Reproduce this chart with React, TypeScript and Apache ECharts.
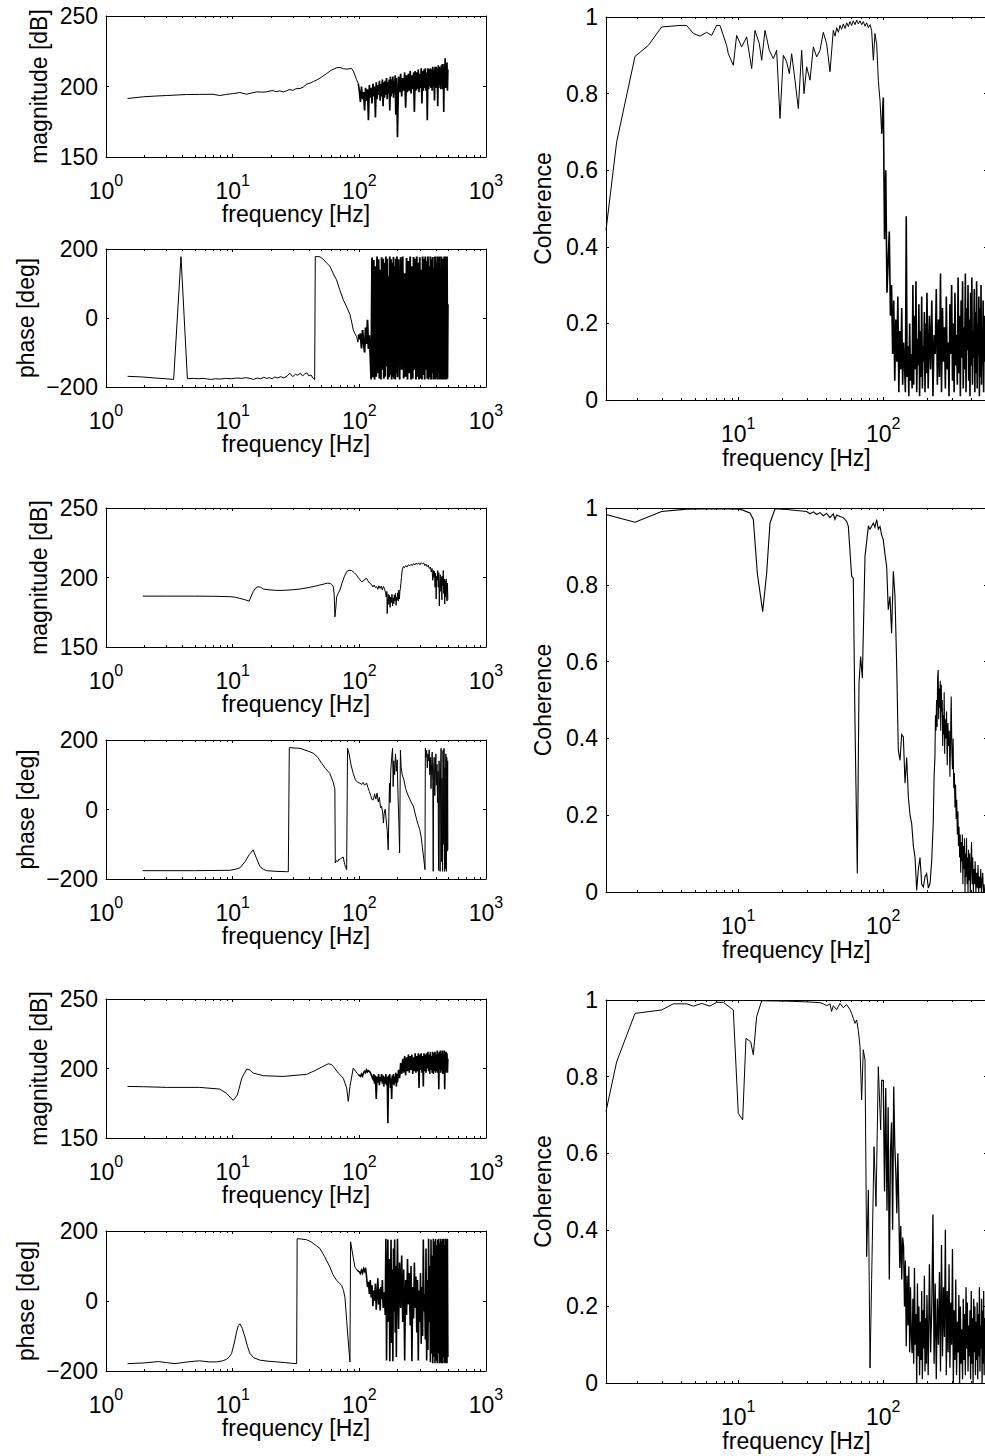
import React, { useEffect, useRef } from "react";
import * as echarts from "echarts";

const FONT = '"Liberation Sans", Arial, Helvetica, sans-serif';

// ---------- shared frequency grid for the dense (noisy) part of the spectra, Hz ----------
const noiseFreq = [
  100, 102, 104, 106, 108, 110, 112, 114, 116, 118, 120, 122, 124, 126, 128, 130, 132, 134, 136, 138,
  140, 142, 144, 146, 148, 150, 152, 154, 156, 158, 160, 162, 164, 166, 168, 170, 172, 174, 176, 178,
  180, 182, 184, 186, 188, 190, 192, 194, 196, 198, 200,
  204, 208, 212, 216, 220, 224, 228, 232, 236, 240, 244, 248, 252, 256, 260, 264, 268, 272, 276, 280,
  284, 288, 292, 296, 300, 304, 308, 312, 316, 320, 324, 328, 332, 336, 340, 344, 348, 352, 356, 360,
  364, 368, 372, 376, 380, 384, 388, 392, 396, 400, 404, 408, 412, 416, 420, 424, 428, 432, 436, 440,
  444, 448, 452, 456, 460, 464, 468, 472, 476, 480, 484, 488, 492, 496, 500,
];

const minorTickFreq = [2, 3, 4, 5, 6, 7, 8, 9, 20, 30, 40, 50, 60, 70, 80, 90, 200, 300, 400, 500, 600, 700, 800, 900];
const leftFreqRange = [1, 1000];
const rightFreqRange = [1.224, 519];

// ---------- Test 1 ----------
const mag1Smooth = [
  [1.48, 191.5], [1.97, 192.7], [2.44, 193.2], [3.0, 193.6], [4.3, 194.3], [5.5, 194.4], [7.0, 194.5],
  [7.9, 193.6], [8.8, 194.3], [10.1, 195.0], [11.4, 195.7], [12.9, 194.5], [14.2, 195.5], [15.5, 196.2],
  [17, 196], [18.5, 196.2], [19.7, 196.8], [20.9, 197.1], [22, 196.3], [23.5, 196.9], [25.1, 196.2],
  [26.7, 197], [28.3, 197.9], [29.8, 197.2], [31.5, 198.4], [34, 198.6], [36, 199.5], [38.4, 201.7],
  [41, 202.5], [43.5, 203.6], [46, 204.5], [50, 206.5], [55.2, 209.2], [60, 211.5], [66.2, 213.3],
  [70.3, 213.5], [75, 212.6], [79.4, 212.3], [83, 212.6], [86.9, 212.8], [89.5, 211], [92.3, 208],
  [95, 205], [98.1, 202.1],
];
const mag1Noise = [
  197, 189, 200, 191, 196, 183, 199, 190, 198, 176,
  201, 192, 199, 188, 202, 193, 200, 178, 203, 191,
  201, 194, 204, 190, 202, 193, 205, 186, 203, 192,
  204, 194, 206, 191, 203, 195, 205, 183, 207, 193,
  205, 195, 207, 192, 204, 196, 208, 180, 206, 194,
  164,
  207, 196, 209, 193, 206, 197, 210, 185, 208, 196,
  209, 197, 211, 195, 208, 198, 210, 182, 211, 197,
  210, 198, 212, 196, 209, 199, 213, 188, 211, 197,
  212, 199, 213, 197, 210, 176, 213, 198, 212, 200,
  213, 199, 212, 197, 214, 200, 212, 190, 214, 199,
  214, 200, 213, 186, 215, 199, 214, 201, 213, 198,
  215, 200, 216, 198, 214, 182, 216, 201, 220, 199,
  215, 200, 217, 197, 212,
];

const phase1Smooth = [
  [1.48, -169], [1.95, -171], [2.44, -174], [2.93, -176], [3.42, -178], [3.91, 178], [4.39, -176],
  [4.88, -175], [5.37, -176], [5.86, -175], [6.35, -177], [6.84, -178], [7.3, -176], [8.0, -177],
  [8.8, -175], [9.8, -176], [10.7, -174], [11.7, -175], [12.7, -173], [13.7, -175], [14.6, -178],
  [15.6, -174], [16.6, -176], [17.6, -172], [18.6, -175], [19.5, -173], [20.5, -176], [21.5, -171],
  [22.5, -174], [24, -170], [25.4, -174], [26.9, -168], [28.3, -160], [29.8, -170], [31.3, -163],
  [32.7, -166], [34.2, -160], [35.6, -168], [37.1, -162], [38.6, -159], [40, -168], [41.5, -165],
  [43, -174], [44.4, -179], [44.9, 178], [47, 178], [49, 177], [52, 170], [55, 160], [58.6, 150],
  [62, 130], [66, 111], [70, 82], [74.7, 53], [80, 30], [84.3, 10], [87, -12], [89.5, -34], [92, -45],
  [95, -53], [97.5, -70], [98.5, -48],
];
const phase1Noise = [
  -62, -45, -88, -35, -70, -100, -28, -75, -5, -90,
  -50, -110, -178, 175, -172, 168, -178, 150, -170, 178,
  -160, 170, -175, 140, -178, 176, -150, 172, -176, 160,
  -170, 178, -140, 172, -178, 120, -172, 178, -165, 170,
  -178, 160, -170, 177, -176, 150, -178, 172, -160, 178,
  -172,
  170, -178, 176, -150, 178, -175, 130, -170, 174, -178,
  165, -160, 178, -178, 150, -176, 177, -150, 172, -178,
  178, -170, 160, -178, 176, -175, 140, -178, 178, -165,
  172, -178, 178, -150, 165, -176, 178, -178, 150, -172,
  178, -178, 170, -160, 177, -178, 145, -176, 178, -178,
  160, -172, 178, -178, 175, -160, 178, -178, 120, -176,
  178, -178, 172, -178, 165, -178, 178, -172, 178, -178,
  176, -178, 178, -175, 40,
];

const coh1Smooth = [
  [1.224, 0.443], [1.45, 0.674], [1.94, 0.897], [2.4, 0.926], [2.96, 0.974], [3.96, 0.978], [4.4, 0.978],
  [4.9, 0.957], [5.44, 0.95], [6.05, 0.96], [6.55, 0.952], [7.09, 0.978], [7.48, 0.978], [8.31, 0.926],
  [8.54, 0.904], [9.24, 0.874], [9.74, 0.952], [10.55, 0.922], [11.42, 0.948], [12.37, 0.865],
  [13.04, 0.965], [13.97, 0.93], [14.5, 0.887], [15.29, 0.965], [16.37, 0.913], [17.45, 0.891],
  [18.39, 0.913], [19.4, 0.735], [20.45, 0.9], [21.56, 0.883], [22.49, 0.852], [23.34, 0.904],
  [24.61, 0.835], [25.95, 0.761], [27.36, 0.913], [28.4, 0.8], [29.62, 0.87], [31.23, 0.835],
  [32.93, 0.922], [34.72, 0.896], [36.6, 0.913], [38.59, 0.96], [40.69, 0.93], [42.9, 0.857],
  [45.2, 0.965], [46.5, 0.95], [47.7, 0.972], [49, 0.96], [50.3, 0.978], [51.6, 0.968], [53, 0.982],
  [54.5, 0.97], [55.9, 0.985], [57.4, 0.975], [58.9, 0.988], [60.5, 0.978], [62.1, 0.99], [63.8, 0.98],
  [65.5, 0.992], [67.3, 0.982], [69.1, 0.99], [70.9, 0.98], [72.8, 0.988], [74.8, 0.976], [76.8, 0.985],
  [78.9, 0.972], [81, 0.98], [83.1, 0.965], [85.4, 0.887], [87.6, 0.957], [90, 0.93], [92.4, 0.835],
  [95, 0.78], [97.4, 0.696],
];
const coh1Noise = [
  0.79, 0.42, 0.6, 0.28, 0.36, 0.44, 0.22, 0.3, 0.12, 0.26,
  0.05, 0.21, 0.1, 0.27, 0.02, 0.18, 0.08, 0.24, 0.04, 0.15,
  0.1, 0.02, 0.48, 0.06, 0.14, 0.01, 0.2, 0.05, 0.12, 0.03,
  0.3, 0.04, 0.22, 0.08, 0.31, 0.02, 0.16, 0.09, 0.25, 0.01,
  0.18, 0.06, 0.27, 0.03, 0.14, 0.1, 0.23, 0.02, 0.2, 0.07,
  0.28,
  0.03, 0.22, 0.08, 0.26, 0.01, 0.17, 0.12, 0.29, 0.04, 0.21,
  0.06, 0.33, 0.02, 0.24, 0.1, 0.19, 0.03, 0.27, 0.08, 0.15,
  0.01, 0.25, 0.12, 0.3, 0.05, 0.2, 0.02, 0.28, 0.09, 0.17,
  0.04, 0.32, 0.07, 0.22, 0.01, 0.26, 0.11, 0.31, 0.03, 0.19,
  0.08, 0.33, 0.02, 0.24, 0.13, 0.3, 0.05, 0.21, 0.01, 0.28,
  0.09, 0.32, 0.04, 0.18, 0.11, 0.29, 0.02, 0.23, 0.07, 0.31,
  0.03, 0.2, 0.12, 0.27, 0.01, 0.24, 0.06, 0.3, 0.04, 0.17,
  0.09, 0.26, 0.02, 0.22, 0.1,
];

// ---------- Test 2 ----------
const mag2Points = [
  [1.95, 186.6], [3, 186.6], [5, 186.6], [7, 186.5], [9.5, 186.2], [10.5, 185.8], [11.4, 185], [12.5, 184],
  [13.5, 183], [14.5, 189.8], [15.2, 192.5], [15.9, 193.4], [16.6, 193], [17.5, 191.7], [19, 191.2],
  [22.3, 190.7], [26, 190.8], [30, 191.2], [34, 191.7], [40, 192.8], [45, 193.8], [48.9, 194.6],
  [53, 195.4], [56, 195.9], [58.6, 195.8], [60.5, 195], [62.3, 193.4], [63.3, 188], [64.2, 171.7],
  [65.2, 178], [66.2, 186], [68, 188.5], [70.3, 191], [73, 196], [76, 200.5], [79.4, 204.2], [83, 205.2],
  [86.9, 205], [91, 203.5], [95, 201.8], [99, 199.5], [104, 197], [108, 197.5], [111, 198.8], [114, 199.4],
  [117, 197.5], [121, 195.8], [125, 195], [128, 193.2], [131, 194.6], [134, 192.8], [137, 193.4],
  [140, 191.5], [143, 194], [146, 192.2], [149, 193.8], [152, 191], [155, 193.5], [158, 192], [161, 189],
  [163, 186], [165, 190], [166, 174], [167, 183], [169, 188], [171, 180.5], [173, 187], [175, 178.5],
  [177, 186], [179, 182], [181, 188], [183, 179.5], [185, 185.5], [187, 181], [189, 187.5], [191, 183],
  [193, 188.5], [195, 180], [197, 186], [199, 184], [201, 189], [203, 183], [205, 191], [207, 184.5],
  [209, 190], [211, 192], [213, 196], [215, 200], [218, 205.5], [222, 207.8], [227, 207], [232, 208.5],
  [238, 207.5], [244, 209.2], [250, 208.4], [256, 209.5], [262, 208.6], [268, 210], [274, 209],
  [280, 210.3], [287, 209.4], [294, 210.5], [301, 209.2], [308, 210.7], [315, 209.8], [322, 210.5],
  [329, 208.5], [336, 209.6], [343, 207.8], [350, 208.8], [357, 206.5], [364, 207.5], [370, 204],
  [375, 206.5], [380, 198], [384, 205], [388, 200], [392, 204.5], [396, 193], [400, 203], [404, 184.5],
  [408, 201], [412, 198], [416, 205], [420, 193], [424, 203.5], [428, 179.5], [432, 198], [436, 202],
  [440, 190], [444, 200.5], [448, 184], [452, 201], [456, 194], [460, 205], [464, 188.5], [468, 199],
  [472, 181], [476, 197.5], [480, 186], [484, 199], [488, 191], [492, 183], [496, 196], [500, 184],
];

const phase2Points = [
  [1.95, -176], [5, -176], [9.5, -175], [10.5, -172], [11.4, -168], [12.6, -149], [13.5, -130], [14.5, -116],
  [15.4, -140], [16.4, -164], [17.5, -172], [18.5, -176], [22, -178], [26.7, -179], [27.5, -179], [28, 178],
  [34, 176], [40, 167], [43.3, 162], [47, 150], [50.4, 133], [54, 118], [56.8, 109], [58.5, 104], [60.4, 90],
  [62, 80], [63.4, 66], [64.1, 60], [64.6, -154], [66, -147], [67.5, -150], [69, -143], [70.3, -144],
  [72, -140], [74.7, -137], [76.5, -158], [79.4, -173], [80.7, 176], [83, 160], [86, 128], [89.5, 104],
  [93, 86], [97, 78], [101, 76], [104, 72], [107, 78], [110, 70], [114, 76], [117, 63], [120, 52], [123, 40],
  [126, 28], [129, 28], [132, 45], [135, 30], [138, 47], [141, 22], [144, 35], [147, 5], [150, 9],
  [153, -10], [155, -39], [157, -12], [160, 1], [163, -30], [166, -60], [169, -116], [171, -20], [173, 76],
  [175, 20], [177, 110], [180, 150], [183, 176], [185, 66], [187, 140], [190, 100], [193, 160], [196, 110],
  [199, 143], [202, 40], [205, -30], [208, -125], [211, 171], [214, 120], [218, 100], [225, 85], [232, 60],
  [240, 45], [250, 30], [259, 18], [267, 10], [275, -10], [284, -30], [292, -45], [300, -58], [308, -80],
  [315, -110], [322, -140], [330, -173], [332, 176], [336, 150], [340, 170], [344, 120], [348, 160],
  [352, 140], [356, 172], [360, 100], [364, 150], [368, 60], [372, 130], [376, 165], [380, 80], [383, -178],
  [386, 120], [390, 150], [394, 40], [398, 100], [402, 160], [406, 70], [410, 130], [414, 20], [418, 110],
  [422, -175], [426, 140], [430, 60], [434, -178], [438, 120], [442, 176], [446, -150], [450, 90],
  [454, -178], [458, 170], [462, -100], [466, 176], [470, -178], [474, 120], [478, -170], [482, 160],
  [486, -178], [490, 150], [494, -120], [498, 140], [500, -116],
];

const coh2Points = [
  [1.224, 0.983], [1.94, 0.963], [2.96, 0.991], [4.4, 0.997], [7.48, 0.998], [10.3, 0.997], [12.04, 0.987],
  [12.7, 0.97], [13.53, 0.83], [14.73, 0.73], [15.69, 0.83], [16.55, 0.961], [17.92, 0.998], [21.56, 0.996],
  [29.6, 0.991], [31.2, 0.985], [33, 0.99], [34.7, 0.983], [36.6, 0.988], [38.6, 0.98], [40.7, 0.986],
  [42.9, 0.975], [45.2, 0.985], [46.4, 0.97], [47.7, 0.982], [50.3, 0.978], [53, 0.975], [55.9, 0.965],
  [57.4, 0.952], [60.5, 0.822], [62.1, 0.817], [63.8, 0.439], [66.2, 0.048], [68, 0.543], [69.8, 0.613],
  [71.7, 0.557], [74.8, 0.874], [78.9, 0.952], [81, 0.945], [85.4, 0.961], [87.6, 0.95], [90, 0.97],
  [92.4, 0.945], [94.9, 0.952], [97.4, 0.93], [100, 0.917], [102.7, 0.88], [105.5, 0.848], [108.2, 0.735],
  [111.2, 0.77], [114.1, 0.674], [117.3, 0.835], [120.4, 0.77], [123.6, 0.596], [126.9, 0.37],
  [130.4, 0.343], [133.9, 0.41], [137.5, 0.404], [141.2, 0.283], [145, 0.35], [148.8, 0.248], [152.9, 0.2],
  [157, 0.178], [161.2, 0.12], [165.5, 0.091], [170, 0.004], [174.5, 0.06], [179.2, 0.09], [184, 0.02],
  [189, 0.013], [194, 0.04], [199.1, 0.048], [204.5, 0.01], [210, 0.022], [215.6, 0.08], [221, 0.18],
  [224, 0.3], [227, 0.35], [229, 0.46], [231, 0.42], [233, 0.5], [235, 0.43], [237, 0.56], [239, 0.578],
  [241, 0.45], [243, 0.53], [245, 0.48], [247, 0.55], [249, 0.42], [251, 0.54], [253, 0.47], [255, 0.5],
  [257, 0.38], [259, 0.46], [261, 0.41], [263, 0.52], [265, 0.36], [267, 0.45], [270, 0.4], [273, 0.47],
  [276, 0.33], [279, 0.44], [282, 0.38], [285, 0.42], [288, 0.3], [291, 0.4], [294, 0.509], [297, 0.37],
  [300, 0.32], [303, 0.4], [306, 0.27], [309, 0.31], [312, 0.22], [315, 0.28], [318, 0.19], [321, 0.24],
  [324, 0.15], [327, 0.21], [330, 0.12], [333, 0.17], [336, 0.09], [339, 0.15], [342, 0.05], [345, 0.13],
  [348, 0.08], [351, 0.15], [354, 0.02], [357, 0.12], [360, 0.06], [363, 0.14], [366, 0.0], [369, 0.1],
  [372, 0.04], [375, 0.14], [378, 0.02], [381, 0.09], [384, 0.0], [387, 0.11], [390, 0.03], [394, 0.1],
  [398, 0.0], [402, 0.07], [406, 0.13], [410, 0.02], [414, 0.09], [418, 0.0], [422, 0.06], [426, 0.02],
  [430, 0.08], [435, 0.0], [440, 0.05], [445, 0.01], [450, 0.07], [455, 0.0], [460, 0.04], [465, 0.01],
  [470, 0.06], [475, 0.0], [480, 0.03], [485, 0.05], [490, 0.0], [495, 0.02], [500, 0.0],
];

// ---------- Test 3 ----------
const mag3Smooth = [
  [1.48, 187.1], [1.97, 186.9], [3.0, 186.4], [5.5, 186.4], [7.9, 185.2], [8.9, 182.3], [10.1, 177],
  [10.9, 181], [11.8, 193], [12.9, 199.6], [13.6, 199], [14.5, 196.7], [17.5, 194.8], [25, 194.3],
  [38.4, 195.8], [44.6, 198.5], [50.4, 201], [56.9, 203.4], [60.4, 202.8], [62.3, 201.5], [68.2, 196.7],
  [72.3, 194.5], [74.7, 193], [79.4, 186], [81.8, 176.3], [84.3, 187], [89.5, 200.3], [93.5, 198],
  [98.1, 195.5],
];
const mag3Noise = [
  195, 194.3, 196, 194.5, 196.8, 198, 197, 199, 197.5, 198.5,
  198, 197, 195.5, 194, 192.5, 196, 189, 195, 178, 194,
  190, 196, 188, 194, 191, 196, 189, 195, 187, 194,
  189, 196, 188, 194, 160.7, 195, 190, 196, 186, 193,
  178, 195, 189, 196, 188, 194, 190, 197, 187, 196,
  190,
  199, 193, 204, 196, 207, 197, 209, 195, 208, 198,
  210, 197, 209, 199, 210, 196, 208, 198, 211, 197,
  209, 198, 211, 186, 210, 199, 211, 197, 209, 187,
  211, 198, 210, 197, 211, 200, 212, 198, 210, 196,
  212, 199, 209, 197, 212, 196, 211, 198, 212, 197,
  210, 198, 213, 197, 211, 185, 212, 199, 213, 197,
  211, 199, 213, 196, 210, 198, 213, 185, 212, 197,
  212, 199, 211, 197, 207,
];

const phase3Smooth = [
  [1.48, -179], [2.0, -177], [2.6, -173], [3.0, -176], [3.5, -179], [4.2, -175], [5.0, -172], [5.5, -171],
  [6.5, -174], [7.5, -174], [8.3, -171], [8.9, -167], [9.4, -160], [9.8, -150], [10.3, -120], [10.8, -84],
  [11.1, -70], [11.4, -65], [11.9, -78], [12.5, -103], [13.1, -130], [13.7, -150], [14.6, -162],
  [16.4, -169], [19, -172], [22.3, -174], [26, -176], [29, -178], [32, -179], [32.3, 178], [35, 177],
  [38.4, 175], [42, 168], [45, 160], [48.9, 150], [53, 128], [58.6, 97], [62, 75], [66.2, 59], [70, 50],
  [72.4, 45], [75, 30], [77, 10], [79.4, -55], [82, -120], [84.3, -174], [85.3, 169], [88, 140],
  [92.3, 97], [96, 88],
];
const phase3Noise = [
  83, 78, 88, 80, 92, 85, 95, 70, 40, 55,
  20, 60, 10, 45, -15, 30, 0, 50, -25, 20,
  65, -10, 35, -27, 40, 5, 60, -20, 25, 10,
  -40, 178, -170, 60, 176, -60, 120, -172, 30, 175,
  -120, 90, -172, 150, -30, 176, -90, 100, -160, 60,
  178,
  -80, 110, -20, 130, -60, 90, -170, 60, -40, 120,
  -10, 80, -70, 100, -172, 40, -50, 110, -20, 70,
  -90, 60, -170, 30, -60, 80, -122, 40, -100, 176,
  -30, 20, -110, 150, -170, 60, -140, 178, -60, 100,
  -175, 176, -150, 130, -178, 178, -160, 170, -178, 178,
  -170, 160, -178, 176, -150, 178, -178, 165, -176, 178,
  -178, 170, -178, 177, -160, 178, -178, 160, -175, 178,
  -178, 176, -178, 178, -160,
];

const coh3Smooth = [
  [1.224, 0.709], [1.45, 0.839], [1.94, 0.965], [2.96, 0.974], [3.56, 0.99], [4.4, 0.99], [4.9, 0.984],
  [5.59, 0.991], [6.38, 0.984], [7.09, 0.994], [7.88, 0.994], [9.24, 0.974], [10.0, 0.704], [10.72, 0.687],
  [11.3, 0.9], [12.17, 0.891], [12.7, 0.857], [13.39, 0.957], [14.5, 0.998], [21.6, 0.997], [30, 0.995],
  [36.6, 0.993], [38.6, 0.99], [40.7, 0.985], [42.9, 0.99], [44, 0.97], [45.2, 0.985], [47.7, 0.975],
  [50.3, 0.991], [53, 0.98], [55.9, 0.988], [58.9, 0.975], [60.5, 0.965], [62.1, 0.952], [63.8, 0.939],
  [65.5, 0.948], [67.3, 0.92], [69.1, 0.878], [70.9, 0.739], [72.8, 0.87], [74.8, 0.843], [76.8, 0.33],
  [78.9, 0.504], [81, 0.039], [83.1, 0.27], [86.3, 0.617], [89.1, 0.461], [92.4, 0.826], [95.9, 0.661],
  [97.4, 0.791],
];
const coh3Noise = [
  0.79, 0.5, 0.77, 0.45, 0.72, 0.27, 0.6, 0.68, 0.4, 0.774,
  0.62, 0.55, 0.443, 0.6, 0.452, 0.3, 0.41, 0.27, 0.38, 0.357,
  0.2, 0.32, 0.096, 0.28, 0.15, 0.304, 0.08, 0.25, 0.12, 0.078,
  0.22, 0.05, 0.3, 0.1, 0.18, 0.0, 0.26, 0.07, 0.2, 0.02,
  0.16, 0.06, 0.24, 0.01, 0.19, 0.09, 0.28, 0.03, 0.17, 0.05,
  0.23,
  0.02, 0.31, 0.08, 0.2, 0.44, 0.05, 0.26, 0.01, 0.22, 0.1,
  0.29, 0.03, 0.36, 0.07, 0.25, 0.12, 0.4, 0.02, 0.24, 0.08,
  0.31, 0.04, 0.21, 0.1, 0.35, 0.0, 0.19, 0.06, 0.27, 0.02,
  0.16, 0.08, 0.23, 0.0, 0.2, 0.05, 0.14, 0.01, 0.22, 0.06,
  0.18, 0.02, 0.25, 0.09, 0.21, 0.03, 0.15, 0.07, 0.19, 0.01,
  0.24, 0.05, 0.17, 0.0, 0.22, 0.08, 0.2, 0.02, 0.16, 0.06,
  0.21, 0.01, 0.18, 0.07, 0.25, 0.03, 0.15, 0.09, 0.22, 0.0,
  0.19, 0.05, 0.24, 0.02, 0.17,
];

// a smooth low-frequency trace followed by its dense high-frequency part (drawn a little heavier)
const split = (smooth: number[][], noise: number[], noiseWidth: number) => [
  { data: smooth, width: 1 },
  { data: [smooth[smooth.length - 1]].concat(noiseFreq.map((f, i) => [f, noise[i]])), width: noiseWidth },
];

type Kind = "mag" | "phase" | "coh";
const axisSpec: Record<Kind, { min: number; max: number; interval: number; name: string; gap: number }> = {
  mag: { min: 150, max: 250, interval: 50, name: "magnitude [dB]", gap: 56 },
  phase: { min: -200, max: 200, interval: 200, name: "phase [deg]", gap: 69 },
  coh: { min: 0, max: 1, interval: 0.2, name: "Coherence", gap: 52 },
};

const panels: { kind: Kind; left: number; top: number; width: number; height: number; parts: { data: number[][]; width: number }[] }[] = [
  { kind: "mag", left: 106, top: 16, width: 380, height: 141, parts: split(mag1Smooth, mag1Noise, 1.7) },
  { kind: "phase", left: 106, top: 249, width: 380, height: 138, parts: split(phase1Smooth, phase1Noise, 1.9) },
  { kind: "mag", left: 106, top: 508, width: 380, height: 139, parts: [{ data: mag2Points, width: 1 }] },
  { kind: "phase", left: 106, top: 740, width: 380, height: 139, parts: [{ data: phase2Points, width: 1 }] },
  { kind: "mag", left: 106, top: 999, width: 380, height: 139, parts: split(mag3Smooth, mag3Noise, 1.6) },
  { kind: "phase", left: 106, top: 1231, width: 380, height: 140, parts: split(phase3Smooth, phase3Noise, 1.6) },
  { kind: "coh", left: 606, top: 17, width: 381, height: 383, parts: split(coh1Smooth, coh1Noise, 1.6) },
  { kind: "coh", left: 606, top: 508, width: 381, height: 384, parts: [{ data: coh2Points, width: 1.1 }] },
  { kind: "coh", left: 606, top: 1000, width: 381, height: 383, parts: split(coh3Smooth, coh3Noise, 1.3) },
];

const black = "#000";
const expRich = {
  b: { fontSize: 23, fontFamily: FONT, color: black, lineHeight: 30, verticalAlign: "bottom" },
  e: { fontSize: 16, fontFamily: FONT, color: black, lineHeight: 12, verticalAlign: "top" },
};
const expFormatter = (v: number) => "{b|10}{e|" + Math.round(Math.log10(v)) + "}";

function buildOption() {
  const grid: any[] = [];
  const xAxis: any[] = [];
  const yAxis: any[] = [];
  const series: any[] = [];
  panels.forEach((p, i) => {
    const isLeft = p.kind !== "coh";
    const range = isLeft ? leftFreqRange : rightFreqRange;
    const spec = axisSpec[p.kind];
    grid.push({ left: p.left, top: p.top, width: p.width, height: p.height, containLabel: false, outerBoundsMode: "none" });
    const line = { show: true, onZero: false, lineStyle: { color: black, width: 1 } };
    const tick = { show: true, inside: true, length: 3, lineStyle: { color: black, width: 1 } };
    xAxis.push({
      gridIndex: i, type: "log", logBase: 10, min: range[0], max: range[1], position: "bottom",
      axisLine: line, axisTick: tick, splitLine: { show: false }, minorTick: { show: false },
      axisLabel: {
        show: true, margin: 15, formatter: expFormatter, rich: expRich,
        showMinLabel: isLeft, showMaxLabel: isLeft,
      },
      name: "frequency [Hz]", nameLocation: "middle", nameGap: isLeft ? 45 : 46,
      nameTextStyle: { fontSize: 23, color: black, fontFamily: FONT },
    });
    xAxis.push({
      gridIndex: i, type: "log", logBase: 10, min: range[0], max: range[1], position: "top",
      axisLine: line, axisTick: tick, splitLine: { show: false }, axisLabel: { show: false },
    });
    yAxis.push({
      gridIndex: i, type: "value", min: spec.min, max: spec.max, interval: spec.interval, position: "left",
      axisLine: line, axisTick: tick, splitLine: { show: false },
      axisLabel: {
        margin: 8, fontSize: 23, color: black, fontFamily: FONT,
        formatter: (v: number) => {
          const r = Math.round(v * 100) / 100;
          return r < 0 ? "\u2212" + Math.abs(r) : String(r);
        },
      },
      name: spec.name, nameLocation: "middle", nameGap: spec.gap,
      nameTextStyle: { fontSize: 23, color: black, fontFamily: FONT },
    });
    yAxis.push({
      gridIndex: i, type: "value", min: spec.min, max: spec.max, interval: spec.interval, position: "right",
      axisLine: line, axisTick: tick, splitLine: { show: false }, axisLabel: { show: false },
    });
    p.parts.forEach((part) => {
      series.push({
        type: "line", xAxisIndex: 2 * i, yAxisIndex: 2 * i, data: part.data, symbol: "none", showSymbol: false,
        lineStyle: { color: black, width: part.width, join: "miter" }, silent: true, clip: true,
      });
    });
    series.push({
      type: "custom", xAxisIndex: 2 * i, yAxisIndex: 2 * i, silent: true,
      data: minorTickFreq.map((f) => [f, spec.min]),
      renderItem: (params: any, api: any) => {
        const cs = params.coordSys;
        const pt = api.coord([api.value(0), api.value(1)]);
        const x = Math.round(pt[0]) + 0.5;
        if (x < cs.x + 1 || x > cs.x + cs.width - 1) return { type: "group", children: [] };
        const yb = cs.y + cs.height;
        const yt = cs.y;
        return {
          type: "group",
          children: [
            { type: "line", shape: { x1: x, y1: yb, x2: x, y2: yb - 2 }, style: { stroke: black, lineWidth: 1 } },
            { type: "line", shape: { x1: x, y1: yt, x2: x, y2: yt + 2 }, style: { stroke: black, lineWidth: 1 } },
          ],
        };
      },
    });
  });
  return {
    animation: false,
    backgroundColor: "#fff",
    textStyle: { fontFamily: FONT },
    grid, xAxis, yAxis, series,
  };
}

export default function App() {
  const ref = useRef<HTMLDivElement>(null);
  useEffect(() => {
    if (!ref.current) return;
    const chart = echarts.init(ref.current, undefined, { renderer: "svg" });
    chart.setOption(buildOption() as any);
    return () => chart.dispose();
  }, []);
  return (
    <div
      ref={ref}
      style={{ position: "absolute", left: 0, top: 0, width: 985, height: 1456, overflow: "hidden", background: "#fff" }}
    />
  );
}
